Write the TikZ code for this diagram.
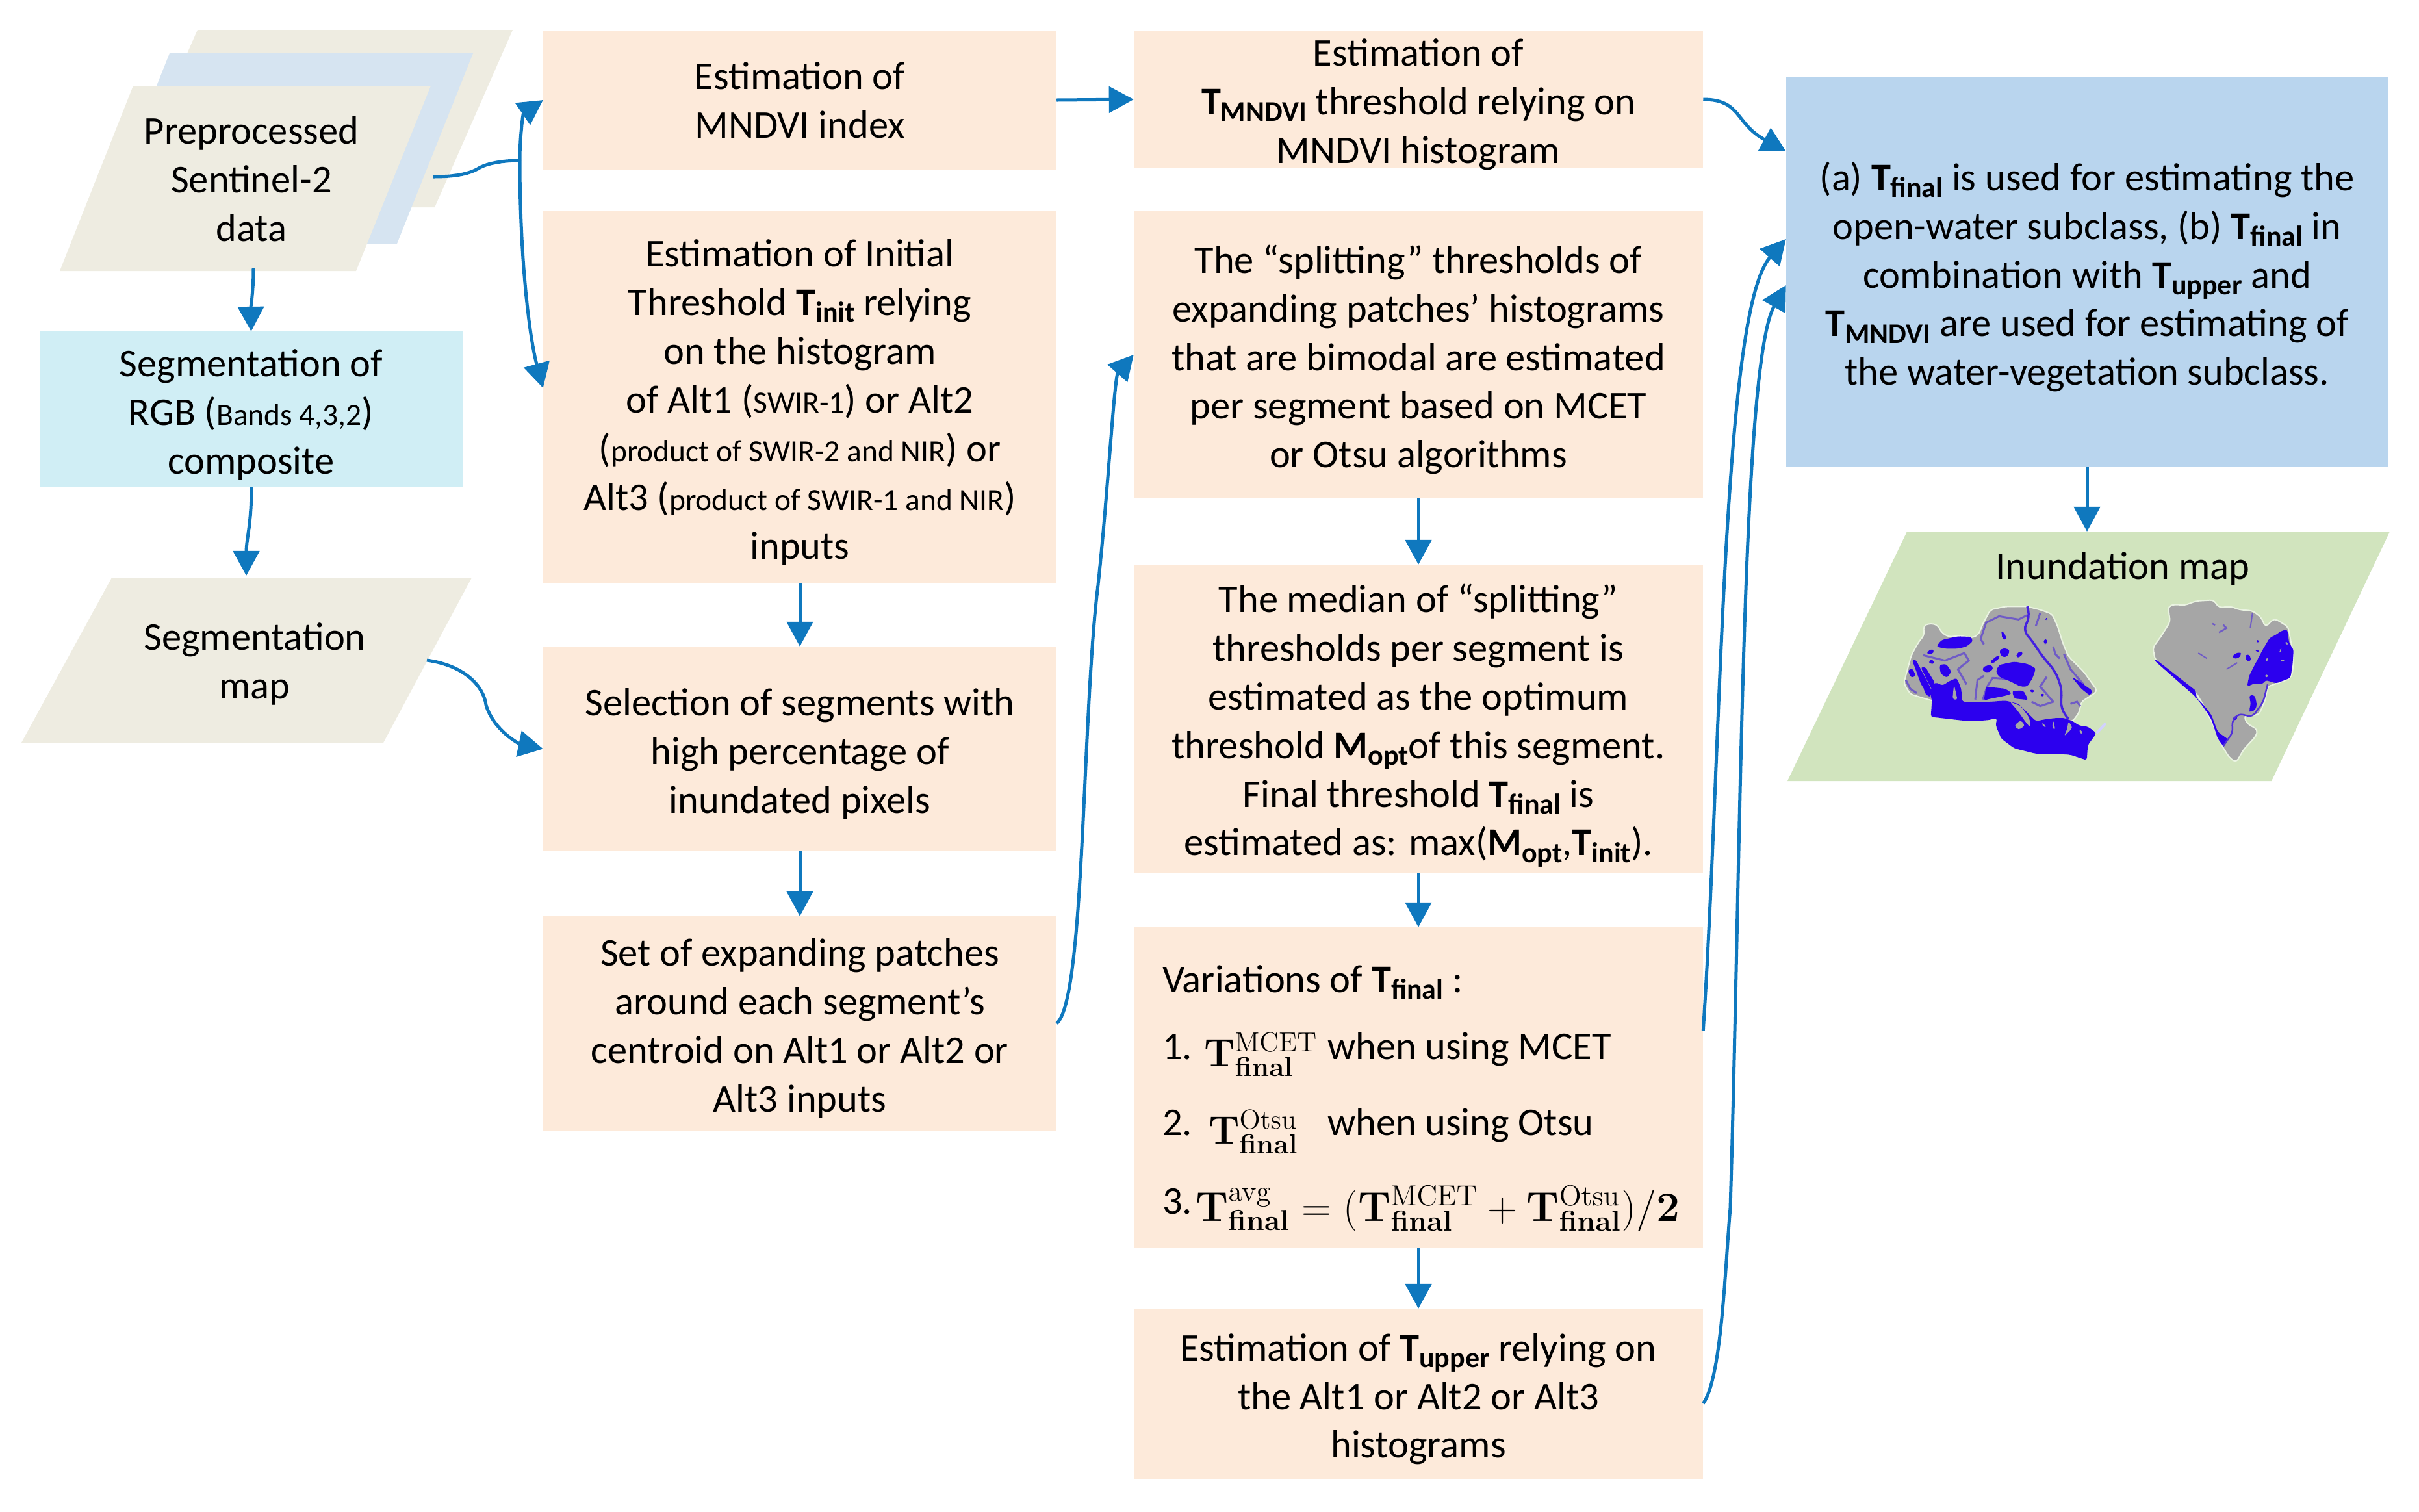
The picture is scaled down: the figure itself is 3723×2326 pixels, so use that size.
\documentclass[tikz,border=0pt]{standalone}
\usepackage[no-math]{fontspec}
\usepackage{graphicx}
\setmainfont{Carlito}
\usetikzlibrary{arrows.meta,calc}
\definecolor{peach}{HTML}{FDEADA}
\definecolor{tan}{HTML}{EEECE1}
\definecolor{paleblue}{HTML}{D6E4F1}
\definecolor{cyanbox}{HTML}{D0EEF5}
\definecolor{bluebox}{HTML}{B9D5EE}
\definecolor{greenbox}{HTML}{D1E4BE}
\definecolor{arrowblue}{HTML}{0F78BE}
\definecolor{mapgray}{HTML}{A6A6A6}
\definecolor{mapblue}{HTML}{2C00EE}
\colorlet{mapmid}{mapblue!45!mapgray}
\newcommand{\Tb}[2]{\textbf{#1}\raisebox{-.35ex}{\textbf{\fontsize{12.5}{12.5}\selectfont #2}}}
\newcommand{\smalltxt}[1]{{\fontsize{13.5}{13.5}\selectfont #1}}
\newcommand{\st}{\rule{0pt}{16.6pt}}
\newcommand{\stb}{\rule{0pt}{18pt}}
\tikzset{
  box/.style={draw=none,align=center,inner sep=0pt,outer sep=0pt,font=\fontsize{17.2}{21.3}\selectfont},
  peachbox/.style={box,fill=peach,minimum width=#1},
  txt/.style={align=center,inner sep=0pt,outer sep=0pt,font=\fontsize{17.2}{21.3}\selectfont},
  ltxt/.style={anchor=base west,inner sep=0pt,outer sep=0pt,font=\fontsize{17.2}{21.3}\selectfont},
  mtxt/.style={anchor=base west,inner sep=0pt,outer sep=0pt,font=\fontsize{18.2}{21.3}\selectfont},
  conn/.style={draw=arrowblue,line width=.05cm,-{Triangle[width=.4cm,length=.38cm]}},
  connplain/.style={draw=arrowblue,line width=.05cm},
  gray region/.style={fill=mapgray,draw=white!55!greenbox,line width=.02cm,rounded corners=1.5pt},
  blue region/.style={fill=mapblue,rounded corners=1pt},
  inlet/.style={fill=mapgray,rounded corners=1pt}
}
\begin{document}
\begin{tikzpicture}[x=0.01cm,y=-0.01cm]
\useasboundingbox (0,0) rectangle (3723,2326);
% stacked data sheets
\fill[tan] (304,46) -- (789,46) -- (669,319) -- (184,319) -- cycle;
\fill[paleblue] (261,82) -- (728,82) -- (611,375) -- (144,375) -- cycle;
\fill[tan] (205,132) -- (663,132) -- (548,417) -- (92,417) -- cycle;
\node[txt] (pre) at (387,276) {Preprocessed\\Sentinel-2\\data};
\coordinate (preout) at (666,272);
\coordinate (prebot) at (390,413);
\coordinate (branch) at (800,247);
% segmentation
\node[box,fill=cyanbox,minimum width=6.51cm,minimum height=2.4cm] (seg) at (386.5,630) {\st Segmentation of\\RGB (\smalltxt{Bands 4,3,2})\\composite};
\fill[tan] (172,889) -- (726,889) -- (590,1143) -- (33,1143) -- cycle;
\node[txt] (map) at (392,1022) {Segmentation\\map};
\coordinate (maptop) at (379,886);
\coordinate (mapout) at (657,1016);
% column 2
\node[peachbox=7.9cm,minimum height=2.14cm] (b1) at (1231,154) {Estimation of\\MNDVI index};
\node[peachbox=7.9cm,minimum height=5.72cm] (b2) at (1231,611) {\st Estimation of Initial\\Threshold \Tb{T}{init} relying\\on the histogram\\of Alt1 (\smalltxt{SWIR-1}) or Alt2\\(\smalltxt{product of SWIR-2 and NIR}) or\\Alt3 (\smalltxt{product of SWIR-1 and NIR})\\inputs};
\node[peachbox=7.9cm,minimum height=3.15cm] (b3) at (1231,1152.5) {\st Selection of segments with\\high percentage of\\inundated pixels};
\node[peachbox=7.9cm,minimum height=3.3cm] (b4) at (1231,1575) {\st Set of expanding patches\\around each segment’s\\centroid on Alt1 or Alt2 or\\Alt3 inputs};
% column 3
\node[peachbox=8.76cm,minimum height=2.12cm] (c1) at (2183,153) {};
\node[txt] (c1t) at (2183,161) {Estimation of\\\Tb{T}{MNDVI} threshold relying on\\MNDVI histogram};
\node[peachbox=8.76cm,minimum height=4.42cm] (c2) at (2183,546) {\st The “splitting” thresholds of\\expanding patches’ histograms\\that are bimodal are estimated\\per segment based on MCET\\or Otsu algorithms};
\node[peachbox=8.76cm,minimum height=4.75cm] (c3) at (2183,1106.5) {\stb The median of “splitting”\\thresholds per segment is\\estimated as the optimum\\threshold \Tb{M}{opt}of this segment.\\Final threshold \Tb{T}{final} is\\estimated as: max(\Tb{M}{opt},\Tb{T}{init}).};
\node[peachbox=8.76cm,minimum height=4.93cm] (c4) at (2183,1673.5) {};
\node[ltxt] (v0) at (1789,1527) {Variations of \Tb{T}{final} :};
\node[ltxt] (v1) at (1789,1630) {1.};
\node[mtxt] (v1m) at (1853,1641) {$\mathbf{T}^{\mathrm{MCET}}_{\mathbf{final}}$};
\node[ltxt] (v1b) at (2043,1630) {when using MCET};
\node[ltxt] (v2) at (1789,1747) {2.};
\node[mtxt] (v2m) at (1860,1760) {$\mathbf{T}^{\mathrm{Otsu}}_{\mathbf{final}}$};
\node[ltxt] (v2b) at (2043,1747) {when using Otsu};
\node[ltxt] (v3) at (1789,1868) {3.};
\node[mtxt] (v3m) at (1840,1879) {\scalebox{1.055}{$\mathbf{T}^{\mathrm{avg}}_{\mathbf{final}}=(\mathbf{T}^{\mathrm{MCET}}_{\mathbf{final}}+\mathbf{T}^{\mathrm{Otsu}}_{\mathbf{final}})/\mathbf{2}$}};
\node[peachbox=8.76cm,minimum height=2.62cm] (c5) at (2183,2145) {\st Estimation of \Tb{T}{upper} relying on\\the Alt1 or Alt2 or Alt3\\histograms};
% result
\node[box,fill=bluebox,minimum width=9.26cm,minimum height=6cm] (r1) at (3212,419) {\st (a) \Tb{T}{final} is used for estimating the\\open-water subclass, (b) \Tb{T}{final} in\\combination with \Tb{T}{upper} and\\\Tb{T}{MNDVI} are used for estimating of\\the water-vegetation subclass.};
% inundation map
\fill[greenbox] (2935,818) -- (3678,818) -- (3496,1202) -- (2751,1202) -- cycle;
\coordinate (inundtop) at (3212,818);
\node[txt] (inund) at (3267,875) {Inundation map};
\begin{scope}[shift={(2920,920)},xscale=.3333,yscale=.3333]
  \path[gray region] (120,130) -- (150,118) -- (185,125) -- (205,160) -- (235,180) -- (290,175) -- (345,185) -- (375,170) -- (395,120) -- (430,55) -- (500,40) -- (600,40) -- (660,55) -- (715,75) -- (740,130) -- (765,210) -- (790,270) -- (860,340) -- (925,430) -- (890,455) -- (850,480) -- (840,530) -- (810,570) -- (700,600) -- (400,490) -- (160,475) -- (60,445) -- (30,395) -- (50,320) -- (65,265) -- (95,210) -- (125,170) -- cycle;
  % thin blue channels in the land
  \draw[mapmid,line width=.03cm] (400,215) -- (385,190) -- (410,115) -- (470,85) -- (560,100) -- (600,80);
  \draw[mapmid,line width=.03cm] (360,470) -- (370,380) -- (400,360);
  \draw[mapmid,line width=.03cm] (395,470) -- (415,410) -- (440,370) -- (520,375);
  \draw[mapmid,line width=.03cm] (120,265) -- (220,290) -- (310,255) -- (330,290) -- (280,330) -- (320,400);
  \draw[mapmid,line width=.03cm] (620,480) -- (660,500) -- (720,480) -- (660,410) -- (690,365);
  \draw[mapmid,line width=.03cm] (770,260) -- (800,330) -- (860,400);
  \draw[mapmid,line width=.03cm] (720,225) -- (730,260) -- (750,280);
  \draw[mapmid,line width=.03cm] (800,490) -- (830,480) -- (845,500);
  \draw[mapmid,line width=.03cm] (640,130) -- (660,70);
  \draw[mapmid,line width=.03cm] (40,380) -- (60,420) -- (90,440);
  % main blue body
  \path[blue region] (160,475) -- (155,550) -- (330,570) -- (420,565) -- (460,555) -- (455,590) -- (480,650) -- (540,695) -- (640,720) -- (730,720) -- (800,725) -- (875,750) -- (880,680) -- (920,625) -- (880,595) -- (840,590) -- (810,570) -- (770,555) -- (735,555) -- (690,560) -- (640,570) -- (610,540) -- (560,490) -- (500,475) -- (400,482) -- (300,480) -- (295,420) -- (275,370) -- (240,385) -- (210,405) -- (175,390) -- (150,430) -- cycle;
  \path[inlet] (540,590) -- (570,565) -- (590,590) -- (560,610) -- cycle;
  \path[inlet] (520,480) -- (570,500) -- (610,555) -- (615,600) -- (590,570) -- (555,520) -- cycle;
  \path[inlet] (262,400) -- (278,472) -- (255,468) -- cycle;
  \path[inlet] (670,575) -- (690,600) -- (668,590) -- cycle;
  \path[inlet] (720,565) -- (730,610) -- (715,600) -- cycle;
  \path[inlet] (790,570) -- (810,600) -- (770,640) -- (785,605) -- cycle;
  \path[inlet] (840,605) -- (860,625) -- (845,630) -- cycle;
  % lakes and lagoons
  \path[blue region] (180,225) -- (205,195) -- (280,178) -- (340,180) -- (350,200) -- (320,225) -- (280,235) -- (220,235) -- cycle;
  \path[blue region] (455,340) -- (470,310) -- (540,295) -- (600,305) -- (640,325) -- (625,370) -- (600,410) -- (570,410) -- (520,385) -- (470,365) -- cycle;
  \path[blue region] (395,320) -- (430,308) -- (445,325) -- (425,345) -- (395,340) -- cycle;
  \path[blue region] (428,295) -- (465,265) -- (475,275) -- (440,305) -- cycle;
  \path[blue region] (470,245) -- (490,232) -- (520,240) -- (510,270) -- (485,275) -- cycle;
  \path[blue region] (550,260) -- (570,245) -- (582,255) -- (565,275) -- (550,275) -- cycle;
  \path[blue region] (138,248) -- (165,235) -- (170,255) -- (140,262) -- cycle;
  \path[blue region] (145,290) -- (165,285) -- (172,305) -- (150,305) -- cycle;
  \path[blue region] (195,310) -- (225,305) -- (250,340) -- (230,370) -- (200,350) -- cycle;
  \path[blue region] (48,335) -- (70,325) -- (85,360) -- (65,370) -- cycle;
  \path[blue region] (68,285) -- (85,285) -- (135,380) -- (165,440) -- (150,455) -- (110,400) -- cycle;
  \path[blue region] (108,320) -- (130,320) -- (175,395) -- (160,425) -- cycle;
  \path[blue region] (100,345) -- (125,380) -- (155,460) -- (130,445) -- cycle;
  \path[blue region] (410,410) -- (500,420) -- (530,442) -- (500,452) -- (420,468) -- (400,475) -- cycle;
  \path[blue region] (530,430) -- (582,428) -- (605,472) -- (540,465) -- cycle;
  \path[blue region] (608,425) -- (635,425) -- (625,442) -- cycle;
  \path[blue region] (658,445) -- (682,443) -- (670,460) -- cycle;
  \path[blue region] (805,365) -- (840,385) -- (902,430) -- (890,452) -- (850,420) -- cycle;
  \path[blue region] (678,190) -- (695,195) -- (690,215) -- (675,212) -- cycle;
  \path[blue region] (680,95) -- (697,92) -- (690,106) -- cycle;
  \path[blue region] (480,150) -- (498,168) -- (505,195) -- (485,190) -- cycle;
  \draw[mapblue!80!mapgray,line width=.035cm,rounded corners=3pt] (600,40) -- (612,90) -- (580,150) -- (620,195) -- (670,270) -- (730,340) -- (760,420) -- (755,510) -- (790,560);
  \draw[blue!18!white,line width=.04cm] (920,625) -- (962,580);
\end{scope}
\begin{scope}[shift={(3290,910)},xscale=.3333,yscale=.3333]
  \path[gray region] (140,70) -- (170,60) -- (215,65) -- (270,45) -- (350,40) -- (375,75) -- (430,70) -- (470,85) -- (530,90) -- (570,120) -- (590,165) -- (630,125) -- (665,145) -- (695,165) -- (720,300) -- (715,380) -- (700,405) -- (600,440) -- (590,500) -- (560,570) -- (490,575) -- (505,610) -- (555,640) -- (545,670) -- (490,730) -- (455,790) -- (425,770) -- (390,715) -- (350,620) -- (300,520) -- (270,470) -- (80,315) -- (70,260) -- (110,205) -- (150,140) -- cycle;
  \path[blue region] (660,185) -- (690,175) -- (700,240) -- (720,270) -- (715,340) -- (705,400) -- (640,425) -- (590,410) -- (575,430) -- (540,425) -- (505,440) -- (515,390) -- (535,350) -- (580,265) -- (610,215) -- (640,200) -- cycle;
  \path[inlet] (590,310) -- (605,308) -- (595,328) -- cycle;
  \path[inlet] (585,385) -- (605,385) -- (595,402) -- cycle;
  \path[inlet] (660,315) -- (685,315) -- (665,325) -- cycle;
  \path[inlet] (655,270) -- (665,265) -- (655,288) -- cycle;
  \path[inlet] (680,230) -- (698,240) -- (685,250) -- cycle;
  \path[blue region] (78,310) -- (270,460) -- (270,490) -- (300,520) -- (340,570) -- (370,650) -- (420,685) -- (395,715) -- (370,680) -- (340,590) -- (300,530) -- (265,485) -- (78,320) -- cycle;
  \path[blue region] (515,480) -- (540,480) -- (550,520) -- (545,545) -- (520,560) -- (515,550) -- (522,520) -- cycle;
  \path[blue region] (438,295) -- (470,280) -- (480,290) -- (465,310) -- (440,310) -- cycle;
  \path[blue region] (495,295) -- (515,290) -- (525,320) -- (505,325) -- cycle;
  \path[blue region] (440,580) -- (460,575) -- (458,595) -- (440,595) -- cycle;
  \path[blue region] (545,230) -- (560,222) -- (560,240) -- cycle;
  \path[blue region] (538,270) -- (560,270) -- (560,285) -- cycle;
  \draw[mapblue!70!mapgray,line width=.025cm,rounded corners=2pt] (395,715) -- (440,650) -- (435,600) -- (465,565) -- (530,580) -- (580,510) -- (600,430);
  \draw[mapmid,line width=.025cm] (375,190) -- (410,170) -- (395,155);
  \draw[mapmid,line width=.025cm] (345,150) -- (358,155);
  \draw[mapmid,line width=.02cm] (280,285) -- (320,310);
  \draw[mapmid,line width=.02cm] (410,360) -- (460,330);
  \draw[mapmid,line width=.02cm] (520,170) -- (530,100);
\end{scope}
% connectors
\draw[connplain] (preout) .. controls (700,272) and (720,268) .. (735,260) .. controls (750,250) and (780,247) .. (branch);
\draw[conn] (branch) .. controls (800,210) and (805,175) .. (b1.west);
\draw[conn] (branch) .. controls (800,400) and (815,520) .. ([yshift=.14cm]b2.west);
\draw[conn] (prebot) .. controls (390,450) and (386,470) .. (seg.north);
\draw[conn] (seg.south) .. controls (388,800) and (379,830) .. (maptop);
\draw[conn] (mapout) .. controls (720,1025) and (745,1060) .. (748,1085) .. controls (760,1125) and (800,1145) .. (b3.west);
\draw[conn] (b2.south) -- (b3.north);
\draw[conn] (b3.south) -- (b4.north);
\draw[conn] (b1.east) -- (c1.west);
\draw[conn] (c1.east) .. controls (2680,153) and (2670,190) .. ([yshift=1.86cm]r1.west);
\draw[conn] (b4.east) .. controls (1670,1540) and (1665,1100) .. (1690,900) .. controls (1705,760) and (1715,580) .. (c2.west);
\draw[conn] (c2.south) -- (c3.north);
\draw[conn] (c3.south) -- (c4.north);
\draw[conn] (c4.south) -- (c5.north);
\draw[conn] ([yshift=.87cm]c4.east) .. controls (2650,1150) and (2650,480) .. ([yshift=.51cm]r1.west);
\draw[conn] ([yshift=-.15cm]c5.east) .. controls (2650,2120) and (2655,1950) .. (2663,1859) .. controls (2680,1300) and (2680,560) .. ([yshift=-.2cm]r1.west);
\draw[conn] (r1.south) -- (inundtop);
\end{tikzpicture}
\end{document}
